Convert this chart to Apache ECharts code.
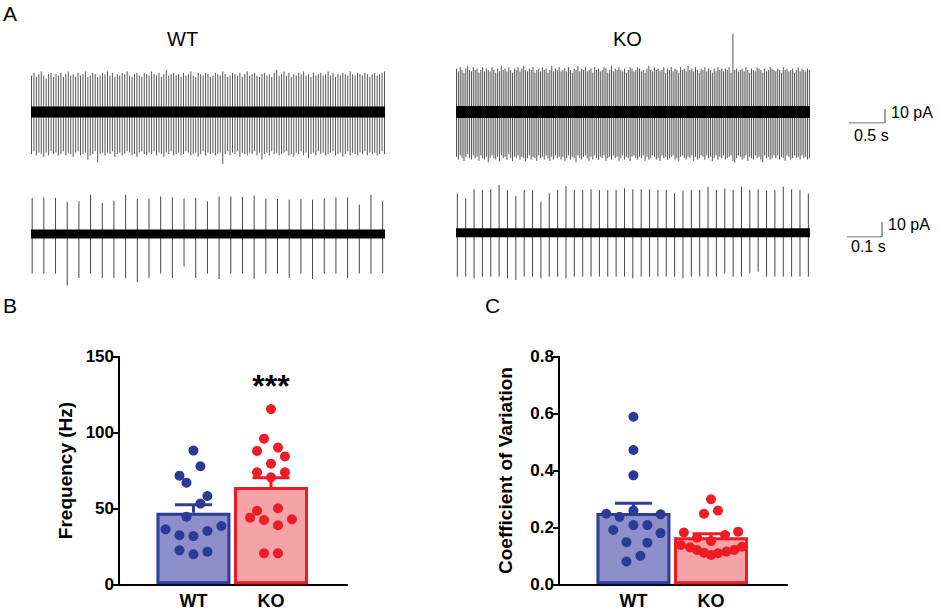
<!DOCTYPE html>
<html>
<head>
<meta charset="utf-8">
<script src="https://cdn.jsdelivr.net/npm/echarts@6/dist/echarts.min.js"></script>
<style>
html,body{margin:0;padding:0;background:#fff;}
#chart{width:939px;height:612px;}
</style>
</head>
<body>
<div id="chart"></div>
<script>
// ---------- Panel A: spike amplitudes (pA, relative to baseline) ----------
const wtTopUp = [
26,28,25,27,29,26,24,27,28,25,27,26,28,25,27,
29,26,27,25,28,26,27,29,25,26,28,27,25,26,28,
27,29,26,28,25,27,26,28,27,29,26,25,27,28,26,
25,28,27,26,29,27,26,28,25,27,30,26,27,28,26,
27,25,28,26,27,29,26,25,28,27,26,28,27,25,26,
28,27,26,29,27,25,26,28,27,26,28,25,27,29,26,
27,28,26,25,27,28,26,27,25,28,30,26,27,29,26,
28,25,27,26,28,27,29,26,27,25,28,26,27,28,26,
27,29,26,28,25,27,26,28,27,26,29,27,26,28,27,
26,28,27,25,27,28,26,27,28,29];
const wtTopDown = [
30,28,31,29,30,32,29,31,28,30,29,31,30,28,31,
29,30,32,29,28,31,30,29,34,31,30,28,36,30,29,
31,29,30,28,32,30,29,31,30,28,29,31,30,32,29,
28,30,31,29,30,28,31,29,30,32,29,30,28,31,30,
29,31,30,28,29,31,30,29,32,30,28,31,29,30,29,
31,30,29,37,30,28,31,29,30,28,32,29,30,31,29,
30,28,31,29,34,30,29,31,28,30,29,31,30,29,28,
31,30,32,29,30,28,31,29,33,30,29,31,28,30,29,
31,30,29,28,31,30,29,32,30,28,31,29,30,31,29,
30,28,31,29,30,29,31,30,28,30];
const wtBotUp = [24,24.4,24,21.3,21.8,26.2,20.7,22.2,26.2,23.3,23.6,25.1,24.4,23.6,24,21.8,25.1,25.1,24.7,25.8,23.6,23.3,22.9,23.3,22.9,23.6,24.4,24.4,19.6,26.2,21.8];
const wtBotDown = [26.4,26.4,26.4,34.4,29.3,26.4,29.3,29.3,29.3,32.2,29.3,26.4,29.3,21.6,29.3,26.4,30,26.4,26.4,30,26.4,26.4,29.3,26.4,30,26.4,26.4,29.3,26.4,26.4,26];
const koTopUp = [
31,29,32,30,28,31,33,30,29,32,30,31,28,30,32,29,31,30,29,
32,30,28,31,29,33,30,31,29,32,30,28,31,30,32,29,31,33,30,
29,31,30,32,28,30,31,29,32,30,31,28,30,33,29,31,30,32,29,
30,31,29,32,30,28,31,30,33,29,31,30,32,29,30,31,28,32,30,
31,29,30,32,31,28,30,33,29,31,30,32,30,29,31,28,30,32,31,
29,30,32,31,29,30,28,31,33,30,29,32,30,31,29,30,32,28,31,
30,32,29,31,30,28,32,30,31,29,33,30,31,29,32,30,28,31,30,
32,29,31,30,28,31,29,32,30,31,29,31,30,32,28,56,30,31,29,
30,31,29,32,30,28,31,30,29,32,31,30,28,31,29,30,32,31,30,
29,31,30,28,32,30,31,29,30,31,28,30,32,29,31,30,29,31,30];
const koTopDown = [
32,34,31,33,35,32,30,33,34,31,33,32,35,31,33,34,32,36,33,
31,33,34,32,35,31,33,32,34,30,33,35,32,33,31,34,32,33,35,
33,31,34,32,33,35,31,33,32,34,31,33,35,32,34,31,33,32,34,
32,35,33,31,34,32,33,36,31,33,34,32,31,33,35,32,34,31,33,
34,32,33,31,35,33,32,34,31,33,32,35,33,31,34,32,33,35,32,
31,33,34,32,33,31,35,32,34,33,31,32,34,33,35,31,33,32,34,
33,32,31,34,33,35,32,31,33,34,32,33,31,35,32,34,33,31,32,
34,31,33,32,35,33,31,34,32,33,31,34,33,32,31,35,36,33,31,
32,34,33,31,35,32,33,34,31,33,32,34,36,31,33,32,34,33,31,
33,31,34,32,33,35,31,32,34,33,31,33,32,34,31,33,32,34,33];
const koBotUp = [26.2,22.9,28.9,28.4,28.9,31.8,28.4,24.4,28.4,28.4,20.7,26.2,28.4,31.1,28.4,28.4,28.9,28.4,28.4,28.4,29.6,28.9,28.9,28.9,28.4,28.4,26.2,28,28.4,28.4,30.7,28.4,29.6,28.4,30.7,28.4,28.9,28,28.4,30.7,28.9,28.4,26.2];
const koBotDown = [29.3,29.3,30.4,29.3,29.3,29.3,30.4,31.6,29.3,29.3,30.4,29.3,29.3,30.4,29.3,29.3,29.3,29.3,29.3,29.3,29.3,30.4,29.3,29.3,29.3,29.3,29.3,30.4,29.3,29.3,29.3,29.3,27.1,29.3,29.3,27.1,26,29.3,29.3,29.3,29.3,29.3,29.3];
const scaleSlow = [0.5, 10];   // s, pA
const scaleFast = [0.1, 10];   // s, pA
const traceTitles = ['WT', 'KO'];

// ---------- Panels B, C ----------
const groups = ['WT', 'KO'];
const freqMean = [47.2, 64.1];
const freqSem = [5.3, 6.2];
const wtFreq = [88.1,77.8,71.6,67.0,58.2,53.2,44.6,36.2,32.3,31.8,35.1,38.4,22.4,19.8,21.5];
const wtFreqJitter = [0,0.09,-0.18,-0.09,0.18,0.09,-0.09,-0.36,-0.18,0,0.18,0.36,-0.18,0,0.18];
const koFreq = [115.5,96.0,90.1,87.9,84.3,79.5,73.8,73.8,70.5,50.1,48.5,43.9,42.4,42.8,38.9,20.4,20.4];
const koFreqJitter = [0,-0.09,0.09,-0.18,0.18,0,-0.18,0.18,0,0.09,-0.18,-0.27,-0.09,0.27,0.09,-0.09,0.09];
const cvMean = [0.251, 0.165];
const cvSem = [0.034, 0.013];
const wtCv = [0.589,0.472,0.383,0.248,0.237,0.259,0.246,0.191,0.208,0.208,0.180,0.148,0.146,0.100,0.080];
const wtCvJitter = [0,0,0,-0.35,-0.18,0,0.35,-0.26,0,0.18,0.35,-0.09,0.18,0.09,-0.09];
const koCv = [0.299,0.248,0.259,0.182,0.164,0.152,0.173,0.185,0.138,0.130,0.121,0.111,0.103,0.109,0.115,0.121,0.132];
const koCvJitter = [0,-0.09,0.09,-0.35,-0.18,0,0.18,0.35,-0.39,-0.27,-0.18,-0.09,0,0.09,0.2,0.3,0.4];
const sigLabel = '***';
const sigY = 131;

// ---------- styles ----------
const FONT = 'Arial, "Liberation Sans", Helvetica, sans-serif';
const C = {
  wtFill: '#8C8FC9', wtLine: '#2E3B97', wtDot: '#2B3A98',
  koFill: '#F5A3A7', koLine: '#EC1C24', koDot: '#EE1C25'
};

const chart = echarts.init(document.getElementById('chart'), null, {renderer: 'svg'});

function spikeSeries(idx, up, down, color, width) {
  return {
    type: 'custom', xAxisIndex: idx, yAxisIndex: idx, z: 1, silent: true,
    data: up.map((u, i) => [i, u, down[i]]),
    renderItem: function (params, api) {
      const x = api.value(0);
      const p1 = api.coord([x, api.value(1)]);
      const p2 = api.coord([x, -api.value(2)]);
      return {type: 'line', shape: {x1: p1[0], y1: p1[1], x2: p2[0], y2: p2[1]},
              style: {stroke: color, lineWidth: width}};
    }
  };
}
function bandSeries(idx, x0, x1, width) {
  return {
    type: 'line', xAxisIndex: idx, yAxisIndex: idx, z: 2, silent: true, symbol: 'none',
    data: [[x0, 0], [x1, 0]], lineStyle: {color: '#000', width: width, cap: 'butt'}
  };
}
function scaleSeries(idx, s) {
  return {
    type: 'line', xAxisIndex: idx, yAxisIndex: idx, symbol: 'none', silent: true,
    data: [[0, 0], [s[0], 0], [s[0], s[1]]], lineStyle: {color: '#444', width: 1}
  };
}
function errSeries(idx, means, sems, colors) {
  return {
    type: 'custom', xAxisIndex: idx, yAxisIndex: idx, z: 3, silent: true, clip: false,
    data: means.map((m, i) => [i + 1, m, sems[i]]),
    renderItem: function (params, api) {
      const x = api.value(0), m = api.value(1), s = api.value(2);
      const a = api.coord([x, m]);
      const b = api.coord([x, m + s]);
      const col = colors[params.dataIndex];
      return {type: 'group', children: [
        {type: 'line', shape: {x1: a[0], y1: a[1], x2: b[0], y2: b[1]}, style: {stroke: col, lineWidth: 3}},
        {type: 'line', shape: {x1: b[0] - 18.5, y1: b[1], x2: b[0] + 18.5, y2: b[1]}, style: {stroke: col, lineWidth: 3}}
      ]};
    }
  };
}
function dotSeries(idx, group, vals, jit, color) {
  return {
    type: 'scatter', xAxisIndex: idx, yAxisIndex: idx, z: 4, silent: true,
    symbolSize: 10, itemStyle: {color: color, opacity: 1},
    data: vals.map((v, i) => [group + jit[i], v])
  };
}
function barSeries(idx, means) {
  return {
    type: 'bar', xAxisIndex: idx, yAxisIndex: idx, z: 2, barWidth: 74, silent: true,
    data: means.map((m, i) => ({value: [i + 1, m], itemStyle: {
      color: i === 0 ? C.wtFill : C.koFill,
      borderColor: i === 0 ? C.wtLine : C.koLine, borderWidth: 3}}))
  };
}

const traceX = [[-0.2, 144.2], [-0.1, 30.2], [-0.27, 189.3], [-0.16, 42.2]];
const hiddenX = (g, min, max) => ({gridIndex: g, type: 'value', min: min, max: max, show: false});
const hiddenY = (g, min, max) => ({gridIndex: g, type: 'value', min: min, max: max, show: false});

function statX(g) {
  return {gridIndex: g, type: 'value', min: 0.04, max: 2.98,
    axisLine: {show: true, onZero: false, lineStyle: {color: '#000', width: 2}},
    axisTick: {show: false}, splitLine: {show: false},
    axisLabel: {customValues: [1, 2], formatter: v => groups[Math.round(v) - 1] || '',
      color: '#000', fontFamily: FONT, fontWeight: 'bold', fontSize: 18, margin: 8}};
}
function statY(g, max, interval, name, fmt) {
  return {gridIndex: g, type: 'value', min: 0, max: max, interval: interval,
    axisLine: {show: true, lineStyle: {color: '#000', width: 2}},
    axisTick: {show: true, length: 6, lineStyle: {color: '#000', width: 2}},
    splitLine: {show: false},
    axisLabel: {color: '#000', fontFamily: FONT, fontWeight: 'bold', fontSize: 17, margin: 5, formatter: fmt},
    name: name, nameLocation: 'middle', nameGap: 44,
    nameTextStyle: {color: '#000', fontFamily: FONT, fontWeight: 'bold', fontSize: 19}};
}

const txt = (text, x, y, size, weight) => ({type: 'text', left: x, top: y, silent: true,
  style: {text: text, fontSize: size, fontFamily: FONT, fontWeight: weight || 'normal', fill: '#000'}});

const option = {
  animation: false,
  backgroundColor: '#fff',
  grid: [
    {left: 31, top: 28, width: 354, height: 140},
    {left: 31, top: 174, width: 354, height: 120},
    {left: 456, top: 28, width: 354, height: 140},
    {left: 456, top: 172.7, width: 354, height: 120},
    {left: 849, top: 109, width: 36, height: 14},
    {left: 847, top: 222, width: 35, height: 15},
    {left: 119, top: 356.7, width: 228, height: 227.6},
    {left: 559, top: 356.7, width: 228, height: 227.6}
  ],
  xAxis: [
    hiddenX(0, traceX[0][0], traceX[0][1]), hiddenX(1, traceX[1][0], traceX[1][1]),
    hiddenX(2, traceX[2][0], traceX[2][1]), hiddenX(3, traceX[3][0], traceX[3][1]),
    hiddenX(4, 0, scaleSlow[0]), hiddenX(5, 0, scaleFast[0]),
    statX(6), statX(7)
  ],
  yAxis: [
    hiddenY(0, -40, 60), hiddenY(1, -40, 40), hiddenY(2, -40, 60), hiddenY(3, -40, 40),
    hiddenY(4, 0, scaleSlow[1]), hiddenY(5, 0, scaleFast[1]),
    statY(6, 150, 50, 'Frequency (Hz)'),
    statY(7, 0.8, 0.2, 'Coefficient of Variation', v => v.toFixed(1))
  ],
  graphic: [
    txt('A', 3, 3, 21),
    txt('B', 3, 295, 21),
    txt('C', 485, 295, 21),
    txt(traceTitles[0], 167, 29, 20),
    txt(traceTitles[1], 613, 29, 20),
    txt(scaleSlow[1] + ' pA', 891, 104, 16),
    txt(scaleSlow[0] + ' s', 854, 127, 16),
    txt(scaleFast[1] + ' pA', 888, 216, 16),
    txt(scaleFast[0] + ' s', 851, 238, 16)
  ],
  series: [
    spikeSeries(0, wtTopUp, wtTopDown, '#555', 1), bandSeries(0, traceX[0][0], traceX[0][1], 11),
    spikeSeries(1, wtBotUp, wtBotDown, '#444', 1), bandSeries(1, traceX[1][0], traceX[1][1], 9),
    spikeSeries(2, koTopUp, koTopDown, '#555', 1), bandSeries(2, traceX[2][0], traceX[2][1], 12),
    spikeSeries(3, koBotUp, koBotDown, '#444', 1), bandSeries(3, traceX[3][0], traceX[3][1], 9),
    scaleSeries(4, scaleSlow), scaleSeries(5, scaleFast),
    barSeries(6, freqMean), errSeries(6, freqMean, freqSem, [C.wtLine, C.koLine]),
    dotSeries(6, 1, wtFreq, wtFreqJitter, C.wtDot), dotSeries(6, 2, koFreq, koFreqJitter, C.koDot),
    {type: 'scatter', xAxisIndex: 6, yAxisIndex: 6, symbolSize: 0, silent: true, z: 5,
     data: [[2, sigY]],
     label: {show: true, position: 'inside', formatter: sigLabel, color: '#000', opacity: 1,
             textBorderWidth: 0, textBorderColor: 'transparent',
             fontFamily: FONT, fontWeight: 'bold', fontSize: 32}},
    barSeries(7, cvMean), errSeries(7, cvMean, cvSem, [C.wtLine, C.koLine]),
    dotSeries(7, 1, wtCv, wtCvJitter, C.wtDot), dotSeries(7, 2, koCv, koCvJitter, C.koDot)
  ]
};
chart.setOption(option);
</script>
</body>
</html>
